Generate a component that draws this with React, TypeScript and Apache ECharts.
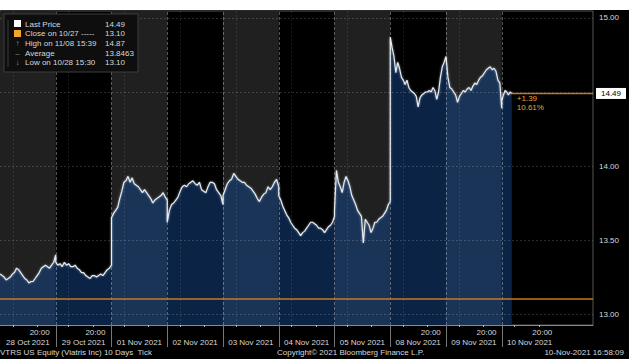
import React, { useEffect, useRef } from "react";
import * as echarts from "echarts";

// ---------- data ----------
const dayLabels = [
  "28 Oct 2021", "29 Oct 2021", "01 Nov 2021", "02 Nov 2021", "03 Nov 2021",
  "04 Nov 2021", "05 Nov 2021", "08 Nov 2021", "09 Nov 2021", "10 Nov 2021",
];
const eveningLabelDays = [true, true, false, false, false, false, false, true, true, true];
const eveningTickLabel = "20:00";

const prices28Oct = [13.27, 13.26, 13.25, 13.23, 13.24, 13.25, 13.27, 13.28, 13.31, 13.30, 13.28, 13.26, 13.24, 13.23, 13.21, 13.22, 13.22, 13.24, 13.26, 13.28, 13.31, 13.32, 13.33, 13.32, 13.31, 13.33, 13.35, 13.40];
const prices29Oct = [13.35, 13.33, 13.34, 13.32, 13.35, 13.33, 13.34, 13.32, 13.32, 13.33, 13.31, 13.30, 13.28, 13.28, 13.26, 13.25, 13.24, 13.26, 13.26, 13.25, 13.26, 13.27, 13.26, 13.28, 13.30, 13.31, 13.33];
const prices01Nov = [13.65, 13.68, 13.70, 13.72, 13.78, 13.83, 13.89, 13.90, 13.93, 13.89, 13.92, 13.88, 13.87, 13.86, 13.84, 13.82, 13.84, 13.82, 13.80, 13.78, 13.75, 13.77, 13.78, 13.79, 13.80, 13.82, 13.79, 13.77];
const prices02Nov = [13.62, 13.70, 13.74, 13.75, 13.77, 13.79, 13.83, 13.86, 13.87, 13.86, 13.88, 13.89, 13.90, 13.88, 13.87, 13.89, 13.84, 13.83, 13.82, 13.86, 13.89, 13.89, 13.88, 13.84, 13.82, 13.80, 13.74];
const prices03Nov = [13.80, 13.84, 13.88, 13.90, 13.91, 13.95, 13.93, 13.91, 13.90, 13.89, 13.89, 13.87, 13.86, 13.85, 13.83, 13.81, 13.78, 13.76, 13.79, 13.81, 13.82, 13.86, 13.84, 13.86, 13.89, 13.91, 13.86];
const prices04Nov = [13.80, 13.77, 13.73, 13.70, 13.67, 13.65, 13.62, 13.60, 13.58, 13.57, 13.55, 13.53, 13.55, 13.56, 13.58, 13.60, 13.62, 13.62, 13.61, 13.60, 13.58, 13.58, 13.57, 13.55, 13.57, 13.59, 13.60, 13.62, 13.66];
const prices05Nov = [13.70, 13.97, 13.89, 13.86, 13.82, 13.89, 13.93, 13.90, 13.86, 13.80, 13.77, 13.74, 13.70, 13.68, 13.66, 13.48, 13.64, 13.62, 13.60, 13.55, 13.58, 13.62, 13.62, 13.64, 13.65, 13.66, 13.68, 13.70, 13.74, 13.76];
const prices08Nov = [14.87, 14.80, 14.74, 14.63, 14.70, 14.66, 14.60, 14.58, 14.55, 14.58, 14.53, 14.51, 14.50, 14.49, 14.47, 14.40, 14.46, 14.48, 14.49, 14.50, 14.50, 14.51, 14.50, 14.53, 14.51, 14.45, 14.50, 14.60, 14.67, 14.70, 14.74];
const prices09Nov = [14.74, 14.60, 14.53, 14.52, 14.50, 14.48, 14.43, 14.47, 14.49, 14.51, 14.50, 14.52, 14.53, 14.51, 14.54, 14.56, 14.55, 14.58, 14.60, 14.61, 14.63, 14.65, 14.66, 14.67, 14.65, 14.66, 14.64, 14.58, 14.56, 14.39];
const prices10Nov = [14.44, 14.48, 14.51, 14.50, 14.48, 14.50, 14.49];

const sessions = [prices28Oct, prices29Oct, prices01Nov, prices02Nov, prices03Nov, prices04Nov, prices05Nov, prices08Nov, prices09Nov, prices10Nov];
const lastSessionSpan = 0.18; // fraction of the last session elapsed

const yGridValues = [13, 13.5, 14, 14.5, 15];
const yLabelValues = [13, 13.5, 14, 15];
const yMinorValues = [13.25, 13.75, 14.25, 14.75];

const lastPrice = 14.49;
const prevClose = 13.1;
const netChange = "+1.39";
const pctChange = "10.61%";

const legendNames = ["Last Price", "Close on 10/27 -----", "High on 11/08 15:39", "Average", "Low on 10/28 15:30"];
const legendValues = ["14.49", "13.10", "14.87", "13.8463", "13.10"];
const legendMarks = ["", "", "\u2191", "\u2012", "\u2193"];

const footerLeft = "VTRS US Equity (Viatris Inc) 10 Days  Tick";
const footerMid = "Copyright\u00A9 2021 Bloomberg Finance L.P.";
const footerRight = "10-Nov-2021 16:58:09";

// ---------- layout / style ----------
const FONT = '"Liberation Sans", Arial, sans-serif';
const GRID_TOP = 11;
const GRID_W = 593;
const GRID_H = 314;
const DAY_PX = 55.75;
const X_MAX = GRID_W / DAY_PX;
const Y_MIN = 12.926;
const Y_MAX = 15.047;
const SESSION_OPEN = 5.5 / 24;
const EVENING = 16 / 24;

const COL_GRAY = "#202020";
const NAVY_LIGHT = "#1a3458";
const NAVY_DARK = "#0b2446";
const ORANGE = "#c47a1e";
const TXT = "#d8d8d8";
const TOP_Z = 100;

export default function App() {
  const ref = useRef<HTMLDivElement>(null);

  useEffect(() => {
    if (!ref.current) return;
    const chart = echarts.init(ref.current, null, { renderer: "svg" });

    const points = sessions.map((vals, d) => {
      const span = d === sessions.length - 1 ? lastSessionSpan : 1;
      return vals.map((v, i) => [d + (span * i) / (vals.length - 1), v]);
    });
    const allPoints = points.flat();
    const lastX = allPoints[allPoints.length - 1][0];
    const dayIdx = dayLabels.map((_, d) => d);
    const boundaries = dayIdx.slice(1);
    const centers = dayIdx.map((d) => d + 0.5);

    const gridLines: any[] = [
      ...yGridValues.map((v) => ({ yAxis: v })),
      ...boundaries.map((b) => ({
        xAxis: b,
        lineStyle: { color: "rgba(255,255,255,0.32)", type: [3, 2], width: 1 },
      })),
      ...dayIdx.slice(0, 9).map((d) => ({
        xAxis: d + SESSION_OPEN,
        lineStyle: { color: "rgba(255,255,255,0.10)", type: [2, 2], width: 1 },
      })),
      { yAxis: prevClose, lineStyle: { color: ORANGE, type: "solid", width: 1.5 } },
    ];

    const areaSeries = points.map((pts, d) => ({
      type: "line",
      data: pts,
      symbol: "none",
      showSymbol: false,
      silent: true,
      z: 2,
      lineStyle: { width: 0, opacity: 0 },
      areaStyle: { color: d % 2 === 0 ? NAVY_LIGHT : NAVY_DARK, opacity: 1, origin: "start" },
      ...(d === 0
        ? {
            markArea: {
              silent: true,
              itemStyle: { color: COL_GRAY },
              data: dayIdx.filter((x) => x % 2 === 0).map((x) => [{ xAxis: x }, { xAxis: x + 1 }]),
            },
            markLine: {
              silent: true,
              symbol: ["none", "none"],
              label: { show: false },
              lineStyle: { color: "rgba(255,255,255,0.17)", type: [2, 2], width: 1 },
              data: gridLines,
            },
          }
        : {}),
    }));

    const textStyle = (text: string, x: number, y: number, fill: string, align = "left") => ({
      text, x, y, fill, fontSize: 8, fontFamily: FONT,
      align, textAlign: align, verticalAlign: "middle", textVerticalAlign: "middle",
    });

    const legendChildren: any[] = [
      { type: "rect", z: TOP_Z, shape: { x: 4, y: 14, width: 134, height: 58 }, style: { fill: "#0e0e0e", stroke: "#3c3c3c", lineWidth: 1 } },
      { type: "line", z: TOP_Z + 1, shape: { x1: 8, y1: 20, x2: 8, y2: 67 }, style: { stroke: "#3a3a3a", lineWidth: 1 } },
      { type: "rect", z: TOP_Z + 1, shape: { x: 14, y: 20, width: 7, height: 7 }, style: { fill: "#ffffff" } },
      { type: "rect", z: TOP_Z + 1, shape: { x: 14, y: 30, width: 7, height: 7 }, style: { fill: "#f2a52a" } },
      ...legendMarks.map((m, i) => ({ type: "text", z: TOP_Z + 1, style: textStyle(m, 17.5, 24 + i * 9.7, "#8a8a8a", "center") })),
      ...legendNames.map((n, i) => ({ type: "text", z: TOP_Z + 1, style: textStyle(n, 25, 24 + i * 9.7, TXT) })),
      ...legendValues.map((v, i) => ({ type: "text", z: TOP_Z + 1, style: textStyle(v, 105, 24 + i * 9.7, TXT) })),
    ];

    const option: any = {
      animation: false,
      backgroundColor: "transparent",
      textStyle: { fontFamily: FONT },
      grid: {
        left: 0, top: GRID_TOP, width: GRID_W, height: GRID_H,
        show: true, borderColor: "#555", borderWidth: 1, backgroundColor: "transparent",
      },
      xAxis: [
        {
          type: "value", min: 0, max: X_MAX, position: "bottom",
          axisLine: { show: true, onZero: false, lineStyle: { color: "#8a8a8a" } },
          axisTick: { show: true, customValues: boundaries, length: 22, lineStyle: { color: "#777" } },
          axisLabel: {
            show: true,
            customValues: centers,
            margin: 2,
            formatter: (v: number) => {
              const i = Math.floor(v);
              const top = eveningLabelDays[i] ? eveningTickLabel : " ";
              return `{t|${top}}\n{d|${dayLabels[i]}}`;
            },
            rich: {
              t: { align: "right", color: TXT, fontSize: 8, lineHeight: 10, fontFamily: FONT },
              d: { color: TXT, fontSize: 8, lineHeight: 10, fontFamily: FONT },
            },
          },
          splitLine: { show: false },
        },
        {
          type: "value", min: 0, max: X_MAX, position: "bottom",
          axisLine: { show: false },
          axisTick: {
            show: true,
            customValues: dayIdx.flatMap((d) => [d + SESSION_OPEN, d + EVENING]),
            length: 2,
            lineStyle: { color: "#bbb" },
          },
          axisLabel: { show: false },
          splitLine: { show: false },
        },
      ],
      yAxis: [
        {
          type: "value", position: "right", min: Y_MIN, max: Y_MAX,
          axisLine: { show: true, lineStyle: { color: "#9a9a9a" } },
          axisTick: { show: true, customValues: yGridValues, length: 4, lineStyle: { color: "#fff", width: 2 } },
          axisLabel: {
            show: true, customValues: yLabelValues, margin: 6,
            formatter: (v: number) => v.toFixed(2),
            color: TXT, fontSize: 8, fontFamily: FONT,
          },
          splitLine: { show: false },
        },
        {
          type: "value", position: "right", min: Y_MIN, max: Y_MAX,
          axisLine: { show: false },
          axisTick: { show: true, inside: true, customValues: yMinorValues, length: 2, lineStyle: { color: "#888" } },
          axisLabel: { show: false },
          splitLine: { show: false },
        },
      ],
      series: [
        ...areaSeries,
        {
          type: "line",
          data: allPoints,
          symbol: "none",
          showSymbol: false,
          silent: true,
          z: 4,
          lineStyle: {
            color: "#e6ebf0", width: 1.2,
            shadowColor: "rgba(190,200,215,0.7)", shadowBlur: 2,
          },
          markLine: {
            silent: true,
            symbol: ["none", "none"],
            lineStyle: { color: ORANGE, type: "solid", width: 1.3 },
            label: {
              show: true, position: "end", distance: 3,
              formatter: lastPrice.toFixed(2),
              backgroundColor: "#ffffff", color: "#000", padding: [2, 5, 1, 5],
              fontSize: 8, fontFamily: FONT,
            },
            data: [[{ coord: [lastX, lastPrice] }, { coord: [X_MAX, lastPrice] }]],
          },
          markPoint: {
            silent: true,
            symbol: "circle",
            symbolSize: 0,
            data: [{ coord: [lastX, lastPrice] }],
            label: {
              show: true, position: "right", distance: 0, offset: [5, 10],
              formatter: `${netChange}\n${pctChange}`,
              color: "#e9a035", fontSize: 8, lineHeight: 9, align: "left", fontFamily: FONT,
            },
          },
        },
      ],
      graphic: [
        { type: "group", z: TOP_Z, silent: true, children: legendChildren },
        { type: "text", z: TOP_Z, silent: true, style: textStyle(footerLeft, 0, 352, TXT) },
        { type: "text", z: TOP_Z, silent: true, style: textStyle(footerMid, 277, 352, TXT) },
        { type: "text", z: TOP_Z, silent: true, style: textStyle(footerRight, 624, 352, TXT, "right") },
      ],
    };

    chart.setOption(option);
    return () => chart.dispose();
  }, []);

  return (
    <div style={{ position: "fixed", left: 0, top: 0, width: 641, height: 359, background: "#fff", overflow: "hidden" }}>
      <div style={{ position: "absolute", left: 0, top: 10, width: 629, height: 349, background: "#000" }} />
      <div ref={ref} style={{ position: "absolute", left: 0, top: 0, width: 641, height: 359 }} />
    </div>
  );
}
